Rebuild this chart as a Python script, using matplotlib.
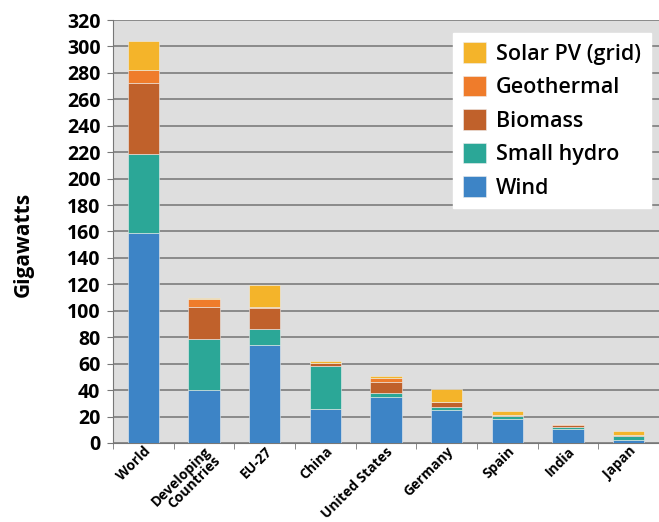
import matplotlib
matplotlib.use("Agg")
import matplotlib.pyplot as plt
import numpy as np

# Renewable power capacity by source (GW)
categories = ["World", "Developing\nCountries", "EU-27", "China", "United States",
              "Germany", "Spain", "India", "Japan"]
wind = [159, 40, 74, 26, 35, 25, 18.5, 10.5, 2.2]
small_hydro = [60, 39, 12.5, 32, 3, 2.5, 1.8, 1.8, 3.3]
biomass = [53, 24, 16, 2.5, 8, 3.5, 0.6, 1.2, 0.3]
geothermal = [10, 6, 0.3, 0.3, 3.2, 0.1, 0.1, 0.5, 0.6]
solar_pv = [22, 0.5, 17, 1, 1.5, 10, 3.5, 0.6, 2.3]

series = [
    ("Wind", wind, "#3d84c6"),
    ("Small hydro", small_hydro, "#2ba797"),
    ("Biomass", biomass, "#c0612b"),
    ("Geothermal", geothermal, "#ef7c2b"),
    ("Solar PV (grid)", solar_pv, "#f4b42a"),
]

plt.rcParams["font.family"] = ["Open Sans", "DejaVu Sans"]

fig = plt.figure(figsize=(6.59, 5.22), dpi=100)
ax = fig.add_axes([113 / 659, 1 - 443 / 522, 1 - 113 / 659, (443 - 20) / 522])
ax.set_facecolor("#dedede")

x = np.arange(len(categories))
bottom = np.zeros(len(categories))
handles = []
for name, vals, color in series:
    vals = np.array(vals, dtype=float)
    h = ax.bar(x, vals, 0.52, bottom=bottom, color=color, label=name,
               edgecolor="#eeeeee", linewidth=0.4, zorder=3)
    handles.append(h)
    bottom += vals

ax.set_ylim(0, 320)
ax.set_xlim(-0.5, (659 - 143) / 62)
ax.set_yticks(np.arange(0, 321, 20))
ax.yaxis.grid(True, color="#8a8a8a", linewidth=1.4, zorder=1)
ax.set_axisbelow(True)

for side in ["top", "right"]:
    ax.spines[side].set_visible(False)
ax.spines["left"].set_color("#777777")
ax.spines["bottom"].set_color("#777777")
ax.spines["left"].set_linewidth(0.8)
ax.spines["bottom"].set_linewidth(0.8)

ax.tick_params(axis="y", length=4, color="#777777", labelsize=14, pad=5)
for lab in ax.get_yticklabels():
    lab.set_fontweight("bold")

ax.set_xticks(x)
ax.set_xticks(np.arange(-0.5, len(categories), 1), minor=True)
ax.tick_params(axis="x", which="major", length=0, pad=1)
ax.tick_params(axis="x", which="minor", length=4, color="#777777")
ax.set_xticklabels(categories, rotation=45, ha="right", rotation_mode="anchor",
                   fontsize=10, fontweight="bold", linespacing=0.9)

ax.set_ylabel("Gigawatts", fontsize=15, fontweight="bold")
ax.yaxis.set_label_coords(-0.145, 0.47)

leg = ax.legend(handles[::-1], [s[0] for s in series][::-1],
                loc="upper right", bbox_to_anchor=(0.985, 0.97),
                prop={"size": 15.5, "weight": "semibold"},
                frameon=True, fancybox=False,
                handlelength=1.1, handleheight=1.1, handletextpad=0.45,
                labelspacing=0.5, borderpad=0.45, borderaxespad=0)
leg.get_frame().set_facecolor("white")
leg.get_frame().set_edgecolor("white")
leg.get_frame().set_alpha(1)

fig.savefig("out.png", dpi=100)
